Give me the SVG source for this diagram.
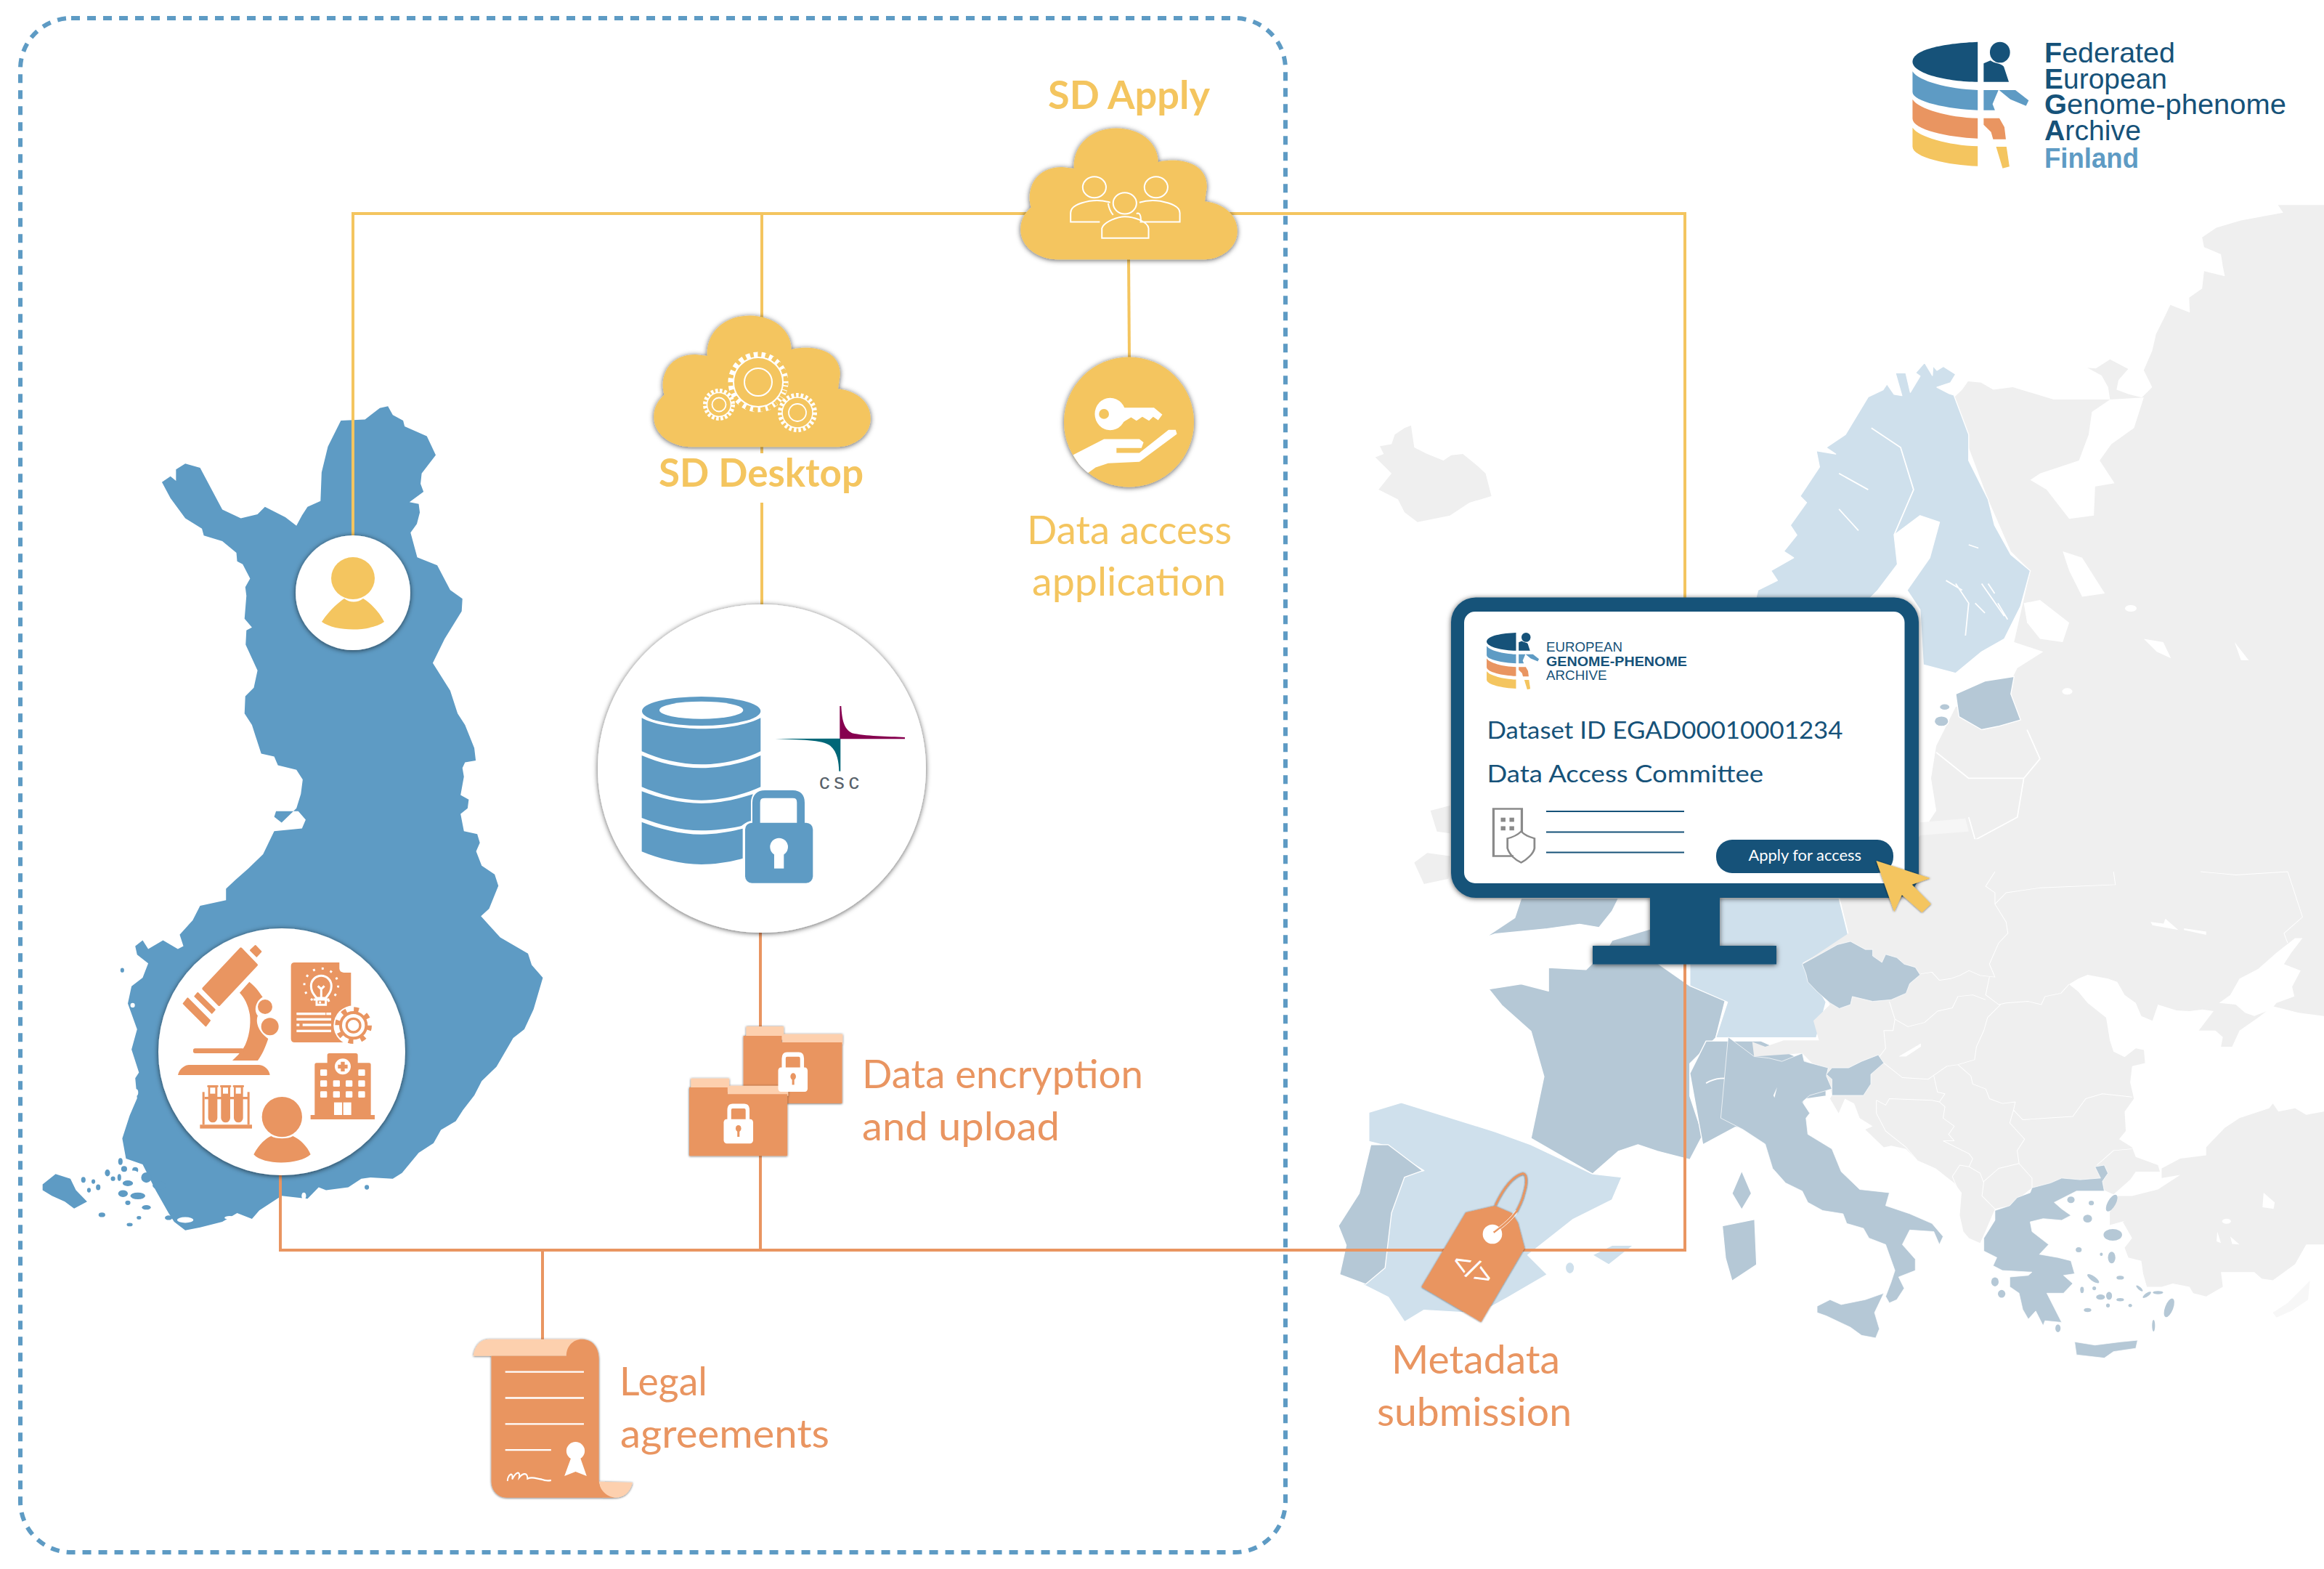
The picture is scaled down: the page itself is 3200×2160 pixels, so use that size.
<svg xmlns="http://www.w3.org/2000/svg" xmlns:xlink="http://www.w3.org/1999/xlink" width="3200" height="2160" viewBox="0 0 3200 2160">
<style>
.lb{fill:#5e9bc4}.or{fill:#e99561}.ye{fill:#f4c55f}.dk{fill:#165279}.wh{fill:#fff}.lt{fill:#fdd0ae}
.gy{fill:#efefef}.pale{fill:#cfe0ec;stroke:#fff;stroke-width:1.5;stroke-linejoin:round}.mid{fill:#b5c8d6;stroke:#fff;stroke-width:1.5;stroke-linejoin:round}
.bd{fill:none;stroke:#fff;stroke-width:2;stroke-linejoin:round}
.yl{fill:none;stroke:#f4c55f;stroke-width:4}.ol{fill:none;stroke:#e99561;stroke-width:4}
.lbl{font-family:Lato,"Liberation Sans",sans-serif}
.lo{font-family:"Liberation Sans",Arial,sans-serif;fill:#165279}
.wl{fill:none;stroke:#fff;stroke-width:2;vector-effect:non-scaling-stroke}
.sh{filter:url(#shadow)}
</style>
<defs>
<filter id="shadow" x="-15%" y="-15%" width="130%" height="130%"><feDropShadow dx="0" dy="1" stdDeviation="3.5" flood-color="#000" flood-opacity=".65"/></filter>
<path id="cloud" transform="translate(860,100) scale(.574,.3827)" d="M1040,672C990,672 950,625 950,565C950,530 960,505 975,485C962,420 985,340 1050,340L1078,345C1075,260 1120,200 1180,200C1235,200 1280,250 1280,322C1300,312 1395,300 1397,410L1392,463C1435,470 1470,510 1470,570C1470,630 1430,672 1390,672Z"/>
<g id="egaLogo">
<path class="dk" d="M400,173C300,178 180,200 180,255C180,305 300,338 400,338Z"/>
<path class="lb" d="M180,295C200,335 300,368 400,372L400,455C300,450 180,420 180,380Z"/>
<path class="or" d="M180,410C200,450 300,485 400,488L400,572C300,568 180,535 180,490Z"/>
<path class="ye" d="M180,527C200,565 300,600 400,604L400,686C300,682 180,650 180,605Z"/>
<ellipse class="dk" cx="475" cy="216" rx="34" ry="43"/>
<path class="dk" d="M420,262L443,250C455,262 480,262 488,275L505,338L420,338Z"/>
<path class="lb" d="M420,372L470,372L450,430L458,455L420,455Z"/>
<path class="lb" d="M472,372L527,372L572,415L563,437L510,410Z"/>
<path class="or" d="M420,488L473,488L490,525L495,575L452,575L445,545L420,515Z"/>
<path class="ye" d="M462,606L497,606L507,688L484,695Z"/>
</g>
</defs>
<rect width="3200" height="2160" fill="#fff"/>

<!-- Europe map -->
<g id="europe">
<g transform="translate(1800,500) scale(.8929)">
<path class="gy" d="M1568,-244L1497,-244L1505,-232L1440,-220L1402,-209L1380,-194L1383,-179L1409,-168L1412,-149L1415,-134L1383,-142L1380,-115L1360,-101L1361,-78L1331,-90L1322,-71L1309,-45L1303,-19L1296,-3L1290,11L1303,37L1287,53L1267,48L1248,41L1251,26L1266,9L1238,-6L1216,8L1203,7L1225,19L1235,37L1238,56L1151,56L1088,37L1058,41L1039,30L1019,28L1010,41L990,60L1020,130L1050,210L1085,290L1115,320L1090,430L1135,445L1095,470L1085,490L1000,530L970,590L962,640L970,690L950,720L900,800L1568,800Z"/>
<path class="wh" d="M1238,56L1290,53L1275,100L1240,125L1222,150L1245,185L1215,190L1213,235L1175,240L1140,195L1115,180L1130,170L1190,150L1205,110L1210,75Z"/>
<path class="wh" d="M1105,370L1130,365L1175,400L1165,430L1130,425L1110,400Z"/>
<path class="wh" d="M1165,290L1195,300L1230,355L1195,360L1175,320Z"/>
<path class="wh" d="M1290,425L1320,430L1332,455L1310,445ZM1430,430L1452,458L1440,458Z"/><ellipse class="wh" cx="1270" cy="378" rx="9" ry="5"/><ellipse class="wh" cx="1172" cy="506" rx="8" ry="5"/>
<path class="gy" d="M105,145L118,140L112,128L130,125L135,110L150,100L160,96L165,130L185,140L210,150L222,142L240,140L262,158L275,170L284,205L250,215L220,235L170,245L150,230L140,210L110,195L130,170Z"/>
<path class="gy" d="M165,770L185,755L220,760L218,795L180,803ZM190,690L220,682L220,725L200,722Z"/>
<path class="pale" d="M952,-1L964,19L965,4L971,11L981,5L1000,17L992,30L971,37L990,47L997,49L1020,110L1020,150L1050,210L1060,250L1085,295L1115,320L1100,375L1075,425L1040,445L1000,478L950,465L945,380L925,350L960,300L975,245L945,235L905,265L910,310L880,350L860,370L690,370L695,350L725,335L715,320L750,300L735,290L755,265L745,250L770,215L760,205L790,160L785,135L815,140L800,130L830,110L865,52L888,41L894,32L905,48L917,50L907,15L923,15L930,45L945,20L938,15Z"/>
<path class="bd" d="M870,100L915,130L935,195L905,265M820,170L865,195M820,225L850,258M1000,340L1020,370L1015,420M1040,340L1075,390M985,335L1010,350M1020,280L1035,285M1050,340L1060,355M1030,370L1045,385M1065,370L1080,395"/>
<path class="mid" d="M1000,510L1045,490L1090,483L1085,510L1100,550L1065,560L1040,565L1005,545Z"/><ellipse class="mid" cx="978" cy="552" rx="11" ry="8"/><ellipse class="mid" cx="983" cy="530" rx="8" ry="5"/>
<path d="M945,708L1015,702L1020,722L945,728Z" fill="#f6f6f6"/>
<path class="bd" d="M970,600L1020,640L1105,640L1095,700L1030,735L1060,800M1105,640L1130,610L1110,565M1030,735L1020,700"/>
<path class="mid" d="M275,885L320,855L330,825L480,825L470,845L450,870L420,865L370,872L290,880Z"/>
<path class="mid" d="M470,890L530,872L530,930L450,925Z"/>
<path class="mid" d="M280,965L330,957L372,968L372,932L430,935L440,925L540,925L590,960L645,980L630,1040L590,1080L590,1130L610,1190L590,1228L540,1215L510,1205L480,1215L440,1250L345,1195L365,1100L345,1030L300,990Z"/>
<path class="pale" d="M636,825L820,825L835,885L765,925L800,985L785,1040L700,1040L630,1040L648,985L590,960L590,925L636,925Z"/>
<path class="mid" d="M590,1095L615,1045L700,1045L800,1090L800,1130L765,1135L770,1175L700,1180L660,1178L610,1205L600,1150Z"/>
<path class="bd" d="M615,1110C650,1090 680,1120 700,1085L720,1075"/>
<path class="mid" d="M655,1280L670,1245L685,1280L670,1305Z"/>
<path class="mid" d="M640,1330L690,1320L693,1390L655,1415L645,1380Z"/>
<path class="pale" d="M95,1155L145,1140L210,1160L290,1185L345,1205L440,1250L485,1255L470,1290L410,1320L340,1375L370,1405L310,1440L265,1465L180,1460L150,1478L125,1440L85,1420L120,1390L130,1300L150,1250L180,1245L115,1205L95,1200Z"/>
<path class="mid" d="M98,1205L125,1205L178,1245L150,1255L130,1310L120,1395L90,1420L50,1405L60,1360L48,1330L80,1280Z"/>
<path class="pale" d="M440,1375L470,1360L503,1360L465,1390Z"/><ellipse class="pale" cx="405" cy="1395" rx="7" ry="9"/>
</g>
<g transform="translate(2400,1200) scale(.5102,.4464)">
<path class="gy" d="M250,-100L1568,-100L1568,445L1500,435L1430,415L1390,450L1340,490L1320,540L1290,540L1295,510L1275,490L1230,490L1270,430L1240,425L1205,430L1170,428L1120,410L1105,460L1075,445L1060,405L1030,380L1010,340L985,330L930,318L905,330L880,347L905,370L930,405L980,450L990,520L1000,555L1030,572L1060,545L1082,550L1085,590L1050,600L1045,650L1055,700L1030,740L1033,800L1015,825L1050,850L1060,880L1120,905L1125,925L1060,925L1045,950L1000,995L970,980L780,975L720,1030L680,1040L650,1120L640,1145L610,1130L595,1110L585,1060L590,990L570,960L520,915L470,890L440,855L400,845L380,850L330,795L350,785L315,760L300,715L275,700L258,745L235,700L240,690L230,640L160,560L30,570L25,525L60,540L110,520L205,520L190,460L235,410L160,285L285,190L262,85Z"/>
<path class="wh" d="M1510,205L1480,250L1460,285L1505,305L1482,355L1488,385L1440,405L1425,425L1380,445L1355,435L1330,410L1285,405L1315,380L1340,330L1390,300L1440,250L1490,205Z"/>
<path class="gy" d="M1130,915L1180,885L1250,875L1250,850L1300,790L1340,760L1420,730L1430,715L1445,740L1490,730L1520,750L1568,740L1568,1150L1520,1150L1490,1210L1430,1260L1400,1255L1380,1235L1290,1235L1295,1280L1250,1310L1215,1300L1205,1280L1160,1270L1130,1280L1090,1280L1080,1240L1075,1200L1040,1190L1030,1160L1050,1130L1025,1080L1035,1075L990,1090L990,1050L1010,1000L1050,1000L1120,980L1180,935L1130,945Z"/>
<path class="wh" d="M1405,990L1435,1020L1432,1040L1402,1035ZM1315,1125L1340,1150L1320,1148ZM1280,1110L1290,1145L1278,1140Z"/><ellipse class="wh" cx="1305" cy="1078" rx="12" ry="8"/>
<path d="M1430,1360L1470,1330L1530,1262L1525,1320L1480,1355L1440,1375Z" fill="#f7f7f7"/>
<path class="wh" d="M1100,155L1135,160L1140,145L1175,180L1105,165ZM1190,175L1250,185L1250,195L1190,180ZM420,570L480,530L480,540L440,570Z"/>
<path class="bd" d="M680,0L655,45L680,65L680,100L710,155L715,190L690,220L665,285L680,325L640,320L610,305L585,320L560,330L530,335L510,310L480,315M665,325L655,380L690,410L710,405L770,400L805,410L815,385L858,375L880,347M695,410L660,450L650,490L630,540L625,580L580,595M395,400L410,455L445,478L490,465L525,430L565,420L580,385L620,380L655,395M410,455L405,490L380,490L385,545L365,575M380,590L430,635L500,640L550,600L580,595L615,630L620,655L655,670L665,700L700,715L735,710L730,735L755,765L820,760L890,755L925,700L970,685L1050,695M515,630L525,680L545,685L530,710L545,725L540,760L570,785L555,810L570,830L540,830M730,735L720,775L760,825L740,860L745,900L780,945L780,975M745,900L690,915L650,955L645,1000L680,1040M360,705L385,720L395,700L510,705L530,710M360,705L360,745L385,800L440,850L470,890M540,830L610,870L620,885L610,910L640,930L650,960M610,910L585,905L565,940L580,980M1050,855L1000,860L980,880L955,905M1000,0L1005,40L800,50L710,65L680,100M1235,0L1330,10L1470,0L1510,140L1460,190L1470,220"/>
<path class="mid" d="M-40,510L30,570L70,575L105,585L160,560L165,585L230,605L225,630L240,670L180,690L160,710L180,745L170,760L175,810L240,855L265,925L315,980L395,990L385,1030L450,1055L510,1085L540,1125L530,1150L515,1110L450,1105L430,1150L465,1195L465,1230L420,1250L435,1285L415,1320L395,1330L385,1310L400,1265L410,1230L385,1150L340,1130L325,1100L280,1085L270,1055L215,1045L175,1020L160,985L115,960L80,915L60,840L0,795L-60,760Z"/>
<path class="wh" d="M82,690L92,665L85,697Z"/>
<path class="mid" d="M225,625L240,605L285,605L320,585L365,565L380,590L345,625L345,655L325,690L240,690L240,640Z"/>
<path class="mid" d="M160,285L200,260L255,225L290,215L330,240L350,240L350,260L375,280L385,255L415,265L435,285L465,295L478,318L450,345L440,375L400,395L350,400L295,385L290,410L260,422L235,405L200,370L175,340L170,315Z"/>
<path class="mid" d="M200,1340L235,1320L265,1335L330,1320L380,1300L355,1360L368,1410L358,1438L320,1430L290,1405L225,1370L200,1360Z"/>
<path class="mid" d="M680,1045L720,1030L740,1005L775,990L780,975L830,960L860,945L910,950L965,945L950,910L975,905L985,930L970,955L975,985L900,985L840,1020L860,1040L885,1060L860,1075L810,1070L775,1080L780,1110L825,1150L800,1180L850,1190L885,1200L895,1240L865,1245L890,1270L865,1300L820,1300L860,1390L815,1385L810,1400L790,1355L770,1380L755,1350L745,1300L720,1280L720,1250L770,1245L780,1235L700,1230L675,1215L685,1190L650,1170L650,1130L680,1075Z"/>
<path class="mid" d="M895,1450L950,1460L1020,1450L1065,1445L1060,1470L1000,1480L975,1500L900,1490Z"/>
<g fill="#b5c8d6"><ellipse cx="885" cy="1012" rx="10" ry="10"/><ellipse cx="940" cy="1022" rx="7" ry="7"/><ellipse cx="930" cy="1070" rx="12" ry="12"/><ellipse cx="998" cy="1120" rx="25" ry="18"/><ellipse cx="995" cy="1190" rx="10" ry="18"/><ellipse cx="967" cy="1180" rx="4" ry="5"/><ellipse cx="945" cy="1255" rx="20" ry="7" transform="rotate(40 945 1255)"/><ellipse cx="906" cy="1166" rx="8" ry="8"/><ellipse cx="1150" cy="1345" rx="11" ry="30" transform="rotate(18 1150 1345)"/><ellipse cx="995" cy="1022" rx="11" ry="28" transform="rotate(25 995 1022)"/><ellipse cx="1108" cy="1400" rx="4" ry="18"/><ellipse cx="698" cy="1302" rx="10" ry="12"/><ellipse cx="680" cy="1265" rx="10" ry="14"/><ellipse cx="850" cy="1408" rx="7" ry="12"/><ellipse cx="965" cy="1312" rx="12" ry="8"/><ellipse cx="988" cy="1308" rx="8" ry="12"/><ellipse cx="1018" cy="1252" rx="10" ry="6"/><ellipse cx="915" cy="1290" rx="5" ry="10"/><ellipse cx="948" cy="1285" rx="5" ry="6"/><ellipse cx="1045" cy="1338" rx="5" ry="5"/><ellipse cx="930" cy="1352" rx="10" ry="6"/><ellipse cx="985" cy="1338" rx="5" ry="6"/><ellipse cx="1018" cy="1320" rx="10" ry="5"/><ellipse cx="1090" cy="1305" rx="14" ry="5" transform="rotate(-40 1090 1305)"/><ellipse cx="1120" cy="1298" rx="14" ry="5"/><ellipse cx="1070" cy="1285" rx="12" ry="4" transform="rotate(45 1070 1285)"/></g>
</g>
</g>

<!-- Finland -->
<g id="finland" transform="translate(0,500) scale(.5102,.7906)">
<path class="lb" d="M1047,75L1060,90L1088,100L1092,110L1152,127L1176,160L1138,192L1135,210L1143,224L1105,242L1130,245L1133,260L1125,280L1108,295L1126,338L1180,352L1215,395L1248,410L1246,432L1200,480L1168,522L1215,570L1235,610L1255,630L1280,670L1284,692L1255,695L1248,705L1252,720L1243,752L1265,760L1262,775L1243,785L1252,815L1288,820L1295,835L1285,850L1300,875L1335,890L1345,910L1320,950L1298,963L1350,1000L1425,1028L1435,1048L1465,1070L1440,1125L1415,1160L1385,1175L1340,1225L1300,1250L1280,1275L1250,1300L1230,1320L1190,1335L1170,1358L1130,1375L1085,1410L1060,1420L1000,1418L975,1420L940,1435L880,1440L860,1435L830,1455L760,1450L700,1475L680,1490L640,1480L600,1495L540,1505L500,1510L470,1495L455,1480L420,1440L385,1395L340,1385L330,1350L350,1310L370,1280L365,1245L375,1235L355,1195L370,1160L345,1115L355,1085L385,1070L400,1045L370,1030L365,1015L385,1005L400,1020L440,1005L480,1020L495,1015L485,995L520,970L540,945L610,935L610,915L635,900L670,880L710,855L740,815L815,810L825,795L805,780L745,780L740,790L760,800L800,775L812,750L817,725L800,708L750,700L740,685L705,680L690,650L680,630L660,610L662,580L685,565L695,535L663,490L665,465L680,460L660,445L665,405L662,390L675,375L655,350L640,345L638,330L600,310L550,300L545,288L500,270L460,235L437,207L460,197L475,205L475,185L500,175L540,182L590,243L600,255L650,270L695,263L715,250L770,268L800,283L815,265L830,250L865,240L868,190L885,145L920,100L985,98L1025,78Z"/>
<path class="lb" d="M115,1430L150,1412L190,1420L205,1440L235,1460L200,1472L175,1460L140,1450L115,1440Z"/>
<g class="lb"><ellipse cx="330" cy="1057" rx="5" ry="4"/><ellipse cx="265" cy="1435" rx="6" ry="5"/><ellipse cx="290" cy="1410" rx="7" ry="6"/><ellipse cx="305" cy="1420" rx="6" ry="4"/><ellipse cx="275" cy="1483" rx="9" ry="4"/><ellipse cx="350" cy="1500" rx="8" ry="3"/><ellipse cx="375" cy="1488" rx="6" ry="3"/><ellipse cx="240" cy="1440" rx="5" ry="4"/><ellipse cx="325" cy="1390" rx="6" ry="6"/><ellipse cx="455" cy="1488" rx="10" ry="4"/><ellipse cx="990" cy="1435" rx="6" ry="4"/><ellipse cx="225" cy="1422" rx="6" ry="5"/><ellipse cx="335" cy="1403" rx="8" ry="5"/><ellipse cx="322" cy="1418" rx="5" ry="6"/><ellipse cx="345" cy="1428" rx="14" ry="5"/><ellipse cx="332" cy="1446" rx="13" ry="6"/><ellipse cx="372" cy="1450" rx="20" ry="6"/><ellipse cx="395" cy="1418" rx="14" ry="9"/><ellipse cx="365" cy="1405" rx="8" ry="5"/><ellipse cx="430" cy="1432" rx="18" ry="7"/><ellipse cx="345" cy="1462" rx="7" ry="4"/><ellipse cx="395" cy="1470" rx="12" ry="4"/><ellipse cx="252" cy="1425" rx="5" ry="4"/></g>
<g class="wh"><ellipse cx="360" cy="1410" rx="12" ry="4"/><ellipse cx="385" cy="1430" rx="10" ry="4"/><ellipse cx="410" cy="1458" rx="18" ry="5"/><ellipse cx="500" cy="1492" rx="22" ry="5"/><ellipse cx="620" cy="1488" rx="14" ry="3"/><ellipse cx="820" cy="1450" rx="6" ry="6"/><ellipse cx="860" cy="1445" rx="8" ry="5"/><ellipse cx="375" cy="1058" rx="8" ry="5"/><ellipse cx="358" cy="1118" rx="6" ry="4"/><ellipse cx="367" cy="1270" rx="6" ry="6"/></g>
</g>

<!-- connectors -->
<g id="connectors">
<path class="yl" d="M486,740V294H2320V826"/>
<path class="yl" d="M1049,294V440M1049,610V624M1049,692V832"/>
<path class="yl" d="M1554,355L1555,494"/>
<path class="ol" d="M386,1610V1721H2320V1320"/>
<path class="ol" d="M747,1721V1846"/>
<path class="ol" d="M1047,1282V1721"/>
</g>

<!-- federated zone -->
<rect id="zone" x="28" y="25" width="1742" height="2112" rx="70" fill="none" stroke="#5e9bc4" stroke-width="6" stroke-dasharray="12 10"/>

<g id="fega-logo">
<use xlink:href="#egaLogo" href="#egaLogo" transform="translate(2560,0) scale(.408,.3333)"/>
<text class="lo" x="2815" y="86" font-size="38.5" textLength="180" lengthAdjust="spacingAndGlyphs"><tspan font-weight="700">F</tspan>ederated</text>
<text class="lo" x="2815" y="121.7" font-size="38.5" textLength="169" lengthAdjust="spacingAndGlyphs"><tspan font-weight="700">E</tspan>uropean</text>
<text class="lo" x="2815" y="157" font-size="38.5" textLength="333" lengthAdjust="spacingAndGlyphs"><tspan font-weight="700">G</tspan>enome-phenome</text>
<text class="lo" x="2815" y="193" font-size="38.5" textLength="133" lengthAdjust="spacingAndGlyphs"><tspan font-weight="700">A</tspan>rchive</text>
<text class="lo" x="2815" y="230.7" font-size="38.5" font-weight="700" textLength="130" lengthAdjust="spacingAndGlyphs" style="fill:#5e9bc4">Finland</text>
</g>

<g id="sd-apply">
<use xlink:href="#cloud" href="#cloud" class="ye sh"/>
<g transform="translate(860,100) scale(.574,.3827)">
<ellipse class="wl" cx="1127" cy="412" rx="28" ry="38"/><ellipse class="wl" cx="1275" cy="412" rx="28" ry="38"/><ellipse class="wl" cx="1200" cy="470" rx="28" ry="38"/>
<path class="wl" d="M1165,467C1150,460 1135,458 1115,462C1090,470 1070,480 1070,505V537H1140M1235,467C1250,460 1265,458 1285,462C1310,470 1332,480 1332,505V537H1238C1240,515 1235,500 1228,508M1160,470C1162,490 1168,505 1172,512M1145,595V560C1150,535 1185,518 1200,518C1220,518 1255,535 1257,560V595Z"/>
</g>
<text class="lbl ye" x="1443" y="150" font-size="54" font-weight="700" textLength="223" lengthAdjust="spacingAndGlyphs">SD Apply</text>
</g>

<g id="sd-desktop">
<use xlink:href="#cloud" href="#cloud" class="ye sh" transform="translate(-505,258)"/>
<g fill="#f4c55f" stroke="#fff">
<circle cx="1044" cy="526" r="37" fill="none" stroke-width="9" stroke-dasharray="6 4.5"/>
<circle cx="1044" cy="526" r="38" fill="none" stroke="#f4c55f" stroke-width="6" stroke-dasharray="3 7.4" stroke-dashoffset="-1.4"/>
<circle cx="1044" cy="526" r="34" stroke-width="2"/>
<circle cx="1044" cy="526" r="19" stroke-width="2"/>
<circle cx="990" cy="557" r="19" fill="none" stroke-width="6" stroke-dasharray="3.5 2.5"/>
<circle cx="990" cy="557" r="16.5" stroke-width="1.6"/>
<circle cx="990" cy="557" r="9.5" stroke-width="1.8"/>
<circle cx="1098" cy="568" r="24" fill="none" stroke-width="6" stroke-dasharray="3.5 3"/>
<circle cx="1098" cy="568" r="21" stroke-width="1.6"/>
<circle cx="1098" cy="568" r="12" stroke-width="1.8"/>
</g>
<text class="lbl ye" x="907" y="669.5" font-size="54" font-weight="700" textLength="282" lengthAdjust="spacingAndGlyphs">SD Desktop</text>
</g>

<g id="data-access-application">
<circle class="ye sh" cx="1554.5" cy="581" r="89.5"/>
<g transform="translate(860,100) scale(.574,.3827)" class="wh">
<ellipse cx="1165" cy="1228" rx="37" ry="58"/>
<path d="M1190,1205L1270,1205L1290,1230L1280,1250L1268,1238L1258,1252L1242,1238L1228,1252L1215,1240L1195,1258Z"/>
<ellipse class="ye" cx="1150" cy="1228" rx="12" ry="18"/>
<path d="M1076,1375L1150,1318L1235,1318L1245,1330L1240,1350L1180,1350L1180,1368L1235,1368L1305,1285L1322,1285L1325,1300L1235,1400L1160,1405L1130,1420L1112,1440C1095,1420 1085,1400 1076,1375Z"/>
</g>
<text class="lbl ye" x="1414" y="749" font-size="54" textLength="282" lengthAdjust="spacingAndGlyphs">Data access</text>
<text class="lbl ye" x="1421" y="820" font-size="54" textLength="267" lengthAdjust="spacingAndGlyphs">application</text>
</g>

<g id="researcher">
<circle class="wh sh" cx="486" cy="816" r="79"/>
<ellipse class="ye" cx="486" cy="796" rx="30" ry="29"/>
<path class="ye" d="M443,856C455,838 468,828 474,824C482,830 492,830 500,824C510,830 522,842 529,856C510,870 462,870 443,856Z"/>
</g>

<g id="research-centre">
<circle class="wh sh" cx="388" cy="1448" r="170"/>
<g transform="translate(180,1250) scale(.3333)">
<g class="or">
<path stroke="#e99561" stroke-width="10" stroke-linejoin="round" d="M455,168L520,235L365,400L300,333Z"/>
<path stroke="#e99561" stroke-width="6" stroke-linejoin="round" d="M515,156L538,180L520,200L495,175Z"/>
<path stroke="#e99561" stroke-width="6" stroke-linejoin="round" d="M277,351L347,420L335,434L265,365Z"/>
<path stroke="#e99561" stroke-width="6" stroke-linejoin="round" d="M235,373L327,465L310,487L218,395Z"/>
<path d="M450,350L490,305C515,325 530,345 545,368C520,380 505,420 525,445C515,470 525,510 568,540C555,580 540,610 525,630L420,630L445,605L465,580C490,540 497,480 492,440C485,400 470,370 450,350Z"/>
<circle cx="555" cy="408" r="30"/><circle cx="575" cy="490" r="36"/>
<rect x="258" y="580" width="210" height="20" rx="8"/>
<path d="M195,690C200,665 220,650 240,648L530,648C555,650 572,670 575,690Z"/>
<path d="M662,240Q662,225 677,225L862,225V250Q862,265 880,267H910V555H677Q662,555 662,540Z"/>
</g>
<path class="wh" d="M875,232L903,262H875Z"/>
<g class="wh"><rect x="685" y="432" width="120" height="10"/><rect x="808" y="432" width="20" height="10"/><rect x="685" y="455" width="143" height="10"/><rect x="685" y="478" width="12" height="10"/><rect x="710" y="478" width="118" height="10"/><rect x="685" y="503" width="143" height="10"/></g>
<circle cx="787" cy="320" r="70" fill="none" stroke="#fff" stroke-width="9" stroke-dasharray="9 27.6"/>
<path fill="none" stroke="#fff" stroke-width="9" d="M768,372C755,355 745,345 745,322A42,42 0 1 1 829,322C829,345 818,355 806,372ZM768,376V400H806V376M755,378H820M787,372V335M773,322L787,335L800,322"/>
<circle cx="920" cy="485" r="82" class="wh"/>
<circle cx="920" cy="485" r="65" fill="none" stroke="#e99561" stroke-width="22" stroke-dasharray="20 31"/>
<circle cx="920" cy="485" r="53" fill="#fff" stroke="#e99561" stroke-width="12"/>
<circle cx="920" cy="485" r="28" fill="#fff" stroke="#e99561" stroke-width="10"/>
<path class="or" d="M760,648Q760,640 768,640H812V608Q812,600 820,600H930Q938,600 938,608V640H985Q992,640 992,648V855H1008V873H743V855H760Z"/>
<circle class="wh" cx="876" cy="655" r="33"/><path class="or" d="M868,635H884V647H896V663H884V675H868V663H856V647H868Z"/>
<g class="wh"><rect x="783" y="667" width="28" height="26" rx="4"/><rect x="940" y="667" width="28" height="26" rx="4"/><rect x="783" y="712" width="28" height="26" rx="4"/><rect x="836" y="712" width="28" height="26" rx="4"/><rect x="888" y="712" width="28" height="26" rx="4"/><rect x="940" y="712" width="28" height="26" rx="4"/><rect x="783" y="757" width="28" height="26" rx="4"/><rect x="836" y="757" width="28" height="26" rx="4"/><rect x="888" y="757" width="28" height="26" rx="4"/><rect x="940" y="757" width="28" height="26" rx="4"/><rect x="840" y="803" width="33" height="52"/><rect x="878" y="803" width="33" height="52"/></g>
<g class="or"><rect x="286" y="895" width="215" height="16"/><rect x="296" y="760" width="9" height="135"/><rect x="482" y="760" width="9" height="135"/><rect x="305" y="780" width="178" height="10"/>
<rect x="316" y="732" width="46" height="8" rx="3"/><rect x="369" y="732" width="46" height="8" rx="3"/><rect x="422" y="732" width="46" height="8" rx="3"/>
<path d="M320,738H358V867A19,19 0 0 1 320,867ZM373,738H411V867A19,19 0 0 1 373,867ZM426,738H464V867A19,19 0 0 1 426,867Z"/></g>
<g class="wh"><rect x="328" y="742" width="21" height="25"/><rect x="381" y="742" width="21" height="25"/><rect x="434" y="742" width="21" height="25"/></g>
<circle class="or" cx="625" cy="863" r="83"/>
<path class="or" d="M508,1018C530,975 560,950 580,942C600,955 650,955 670,942C700,955 730,985 743,1018C700,1060 550,1065 508,1018Z"/>
</g>
</g>

<g id="sd-connect-storage">
<circle class="wh sh" cx="1049" cy="1058" r="226"/>
<g transform="translate(800,800) scale(.3333)">
<g class="lb">
<ellipse cx="497" cy="537" rx="245" ry="60"/>
<path d="M251,565C300,595 420,610 497,610C580,610 690,595 742,565V703C680,735 580,757 497,757C410,757 320,735 251,703Z"/>
<path d="M251,720C320,750 410,772 497,772C580,772 680,750 742,720V850C680,880 580,905 497,905C410,905 320,880 251,850Z"/>
<path d="M251,868C320,895 410,918 497,918C570,918 650,900 710,880L705,990C680,993 675,1005 660,1012C610,1022 550,1030 497,1030C410,1030 320,1005 251,978Z"/>
<path d="M251,995C320,1022 410,1046 497,1046C560,1046 620,1035 668,1022V1145C620,1160 550,1170 497,1170C410,1170 320,1145 251,1117Z"/>
</g>
<ellipse class="wh" cx="497" cy="533" rx="173" ry="36"/>
<path fill="none" stroke="#fff" stroke-width="44" d="M724,1000V915Q724,880 760,880H875Q908,880 908,915V1000"/>
<path fill="none" stroke="#5e9bc4" stroke-width="32" d="M724,1000V915Q724,880 760,880H875Q908,880 908,915V1000"/>
<rect class="wh" x="755" y="900" width="125" height="98"/>
<rect class="lb" x="678" y="998" width="280" height="249" rx="28"/>
<circle class="wh" cx="818" cy="1098" r="37"/><rect class="wh" x="798" y="1120" width="40" height="67"/>
<path fill="#006778" d="M802,651C900,655 1000,655 1030,680C1060,705 1065,750 1066,785H1072V650Z"/>
<path fill="#86004f" d="M1069,516H1075C1078,570 1085,610 1120,628C1170,640 1270,642 1338,645V652H1069Z"/>
</g>
<text x="1128" y="1086" font-family="Liberation Sans, Arial, sans-serif" font-size="29" fill="#58626b" textLength="55">csc</text>
</g>

<g id="data-encryption">
<g transform="translate(600,1380) scale(.3827,.4591)">
<g class="sh">
<rect class="lt" x="1117" y="72" width="135" height="40"/><rect class="lt" x="1247" y="95" width="217" height="30"/>
<path class="or" d="M1107,100H1245V120H1462V303H1107Z"/>
</g>
<g class="sh">
<rect class="lt" x="918" y="228" width="138" height="40"/><rect class="lt" x="1050" y="250" width="218" height="30"/>
<path class="or" d="M912,255H1050V275H1265V460H912Z"/>
</g>
<path fill="none" stroke="#fff" stroke-width="14" d="M1252,200V168Q1252,156 1264,156H1306Q1318,156 1318,168V200"/>
<rect class="wh" x="1232" y="195" width="106" height="73" rx="10"/><circle class="or" cx="1286" cy="222" r="10"/><rect class="or" x="1282" y="225" width="8" height="22"/>
<path fill="none" stroke="#fff" stroke-width="14" d="M1056,355V323Q1056,311 1068,311H1110Q1122,311 1122,323V355"/>
<rect class="wh" x="1036" y="350" width="106" height="73" rx="10"/><circle class="or" cx="1089" cy="378" r="10"/><rect class="or" x="1085" y="381" width="8" height="22"/>
</g>
<text class="lbl or" x="1187" y="1498" font-size="54" textLength="387" lengthAdjust="spacingAndGlyphs">Data encryption</text>
<text class="lbl or" x="1187" y="1570" font-size="54" textLength="272" lengthAdjust="spacingAndGlyphs">and upload</text>
</g>

<g id="legal-agreements">
<g transform="translate(600,1380) scale(.3827,.4591)">
<g class="sh">
<path class="lt" d="M135,1060C140,1030 160,1010 190,1010H530L470,1060Z"/>
<path class="lt" d="M587,1437L708,1440C700,1470 675,1485 650,1485H600Z"/>
<path class="or" d="M200,1060H470C470,1030 495,1010 525,1010C560,1010 587,1030 587,1070V1437C590,1465 620,1485 650,1485H255C225,1485 200,1465 200,1435Z"/>
</g>
<path fill="none" stroke="#fff" stroke-width="5" d="M250,1108H533M250,1186H533M250,1264H533M250,1342H415M258,1435C260,1415 280,1405 275,1430C290,1405 305,1405 300,1425C315,1410 330,1410 330,1428C350,1420 365,1430 380,1430C395,1435 405,1435 415,1433"/>
<ellipse class="wh" cx="503" cy="1345" rx="33" ry="27"/>
<path class="wh" d="M487,1365H520L543,1420L503,1407L463,1420Z"/>
</g>
<text class="lbl or" x="853" y="1921" font-size="54" textLength="121" lengthAdjust="spacingAndGlyphs">Legal</text>
<text class="lbl or" x="854" y="1993" font-size="54" textLength="288" lengthAdjust="spacingAndGlyphs">agreements</text>
</g>

<g id="metadata-submission">
<g transform="translate(1850,1580) scale(.3333)">
<g class="sh">
<path class="or" d="M505,268L625,240L695,270L720,310L748,415L568,720L322,575Z"/>
<path fill="none" stroke="#e99561" stroke-width="8" d="M627,238C650,190 690,120 740,107C760,105 758,150 745,190C738,220 725,245 712,268"/>
</g>
<circle class="wh" cx="615" cy="357" r="40"/>
<path fill="none" stroke="#e99561" stroke-width="8" d="M715,262C690,295 660,320 620,350"/>
<path fill="none" stroke="#fff" stroke-width="2.5" d="M712,258C690,290 660,315 620,345M718,268C695,300 665,325 625,354"/>
</g>
<text transform="translate(2028,1747) rotate(30)" x="0" y="14" text-anchor="middle" font-family="Liberation Sans, Arial, sans-serif" font-size="40" fill="#fff">&lt;/&gt;</text>
<text class="lbl or" x="1916" y="1891" font-size="54" textLength="232" lengthAdjust="spacingAndGlyphs">Metadata</text>
<text class="lbl or" x="1896" y="1963" font-size="54" textLength="268" lengthAdjust="spacingAndGlyphs">submission</text>
</g>

<g id="ega-monitor">
<g class="sh">
<rect class="dk" x="2272" y="1230" width="96" height="75"/>
<rect class="dk" x="2193" y="1302" width="253" height="25.5"/>
<rect class="dk" x="1998" y="822.5" width="644" height="413.5" rx="34"/>
</g>
<rect class="wh" x="2016" y="842" width="606.5" height="374" rx="15"/>
<use xlink:href="#egaLogo" href="#egaLogo" transform="translate(2014,845) scale(.1837,.15)"/>
<text class="lo" x="2129" y="897" font-size="18" textLength="105" lengthAdjust="spacingAndGlyphs">EUROPEAN</text>
<text class="lo" x="2129" y="917" font-size="18" font-weight="700" textLength="194" lengthAdjust="spacingAndGlyphs">GENOME-PHENOME</text>
<text class="lo" x="2129" y="936" font-size="18" textLength="83.5" lengthAdjust="spacingAndGlyphs">ARCHIVE</text>
<text class="lbl dk" x="2047.5" y="1017" font-size="33" textLength="490" lengthAdjust="spacingAndGlyphs">Dataset ID EGAD00010001234</text>
<text class="lbl dk" x="2047.5" y="1077" font-size="33" textLength="380.5" lengthAdjust="spacingAndGlyphs">Data Access Committee</text>
<path fill="none" stroke="#165279" stroke-width="2" d="M2129,1117H2319M2129,1145.500H2319M2129,1173.500H2319"/>
<g transform="translate(1960,800) scale(.4591,.3571)">
<path fill="none" stroke="#8a8a8a" stroke-width="7" d="M270,1060H210V878H295V968"/>
<path fill="none" stroke="#8a8a8a" stroke-width="6" d="M252,992C275,985 285,975 293,965C305,980 315,985 333,992V1030C330,1050 310,1075 293,1085C275,1075 258,1055 252,1030Z"/>
<g fill="#8a8a8a"><rect x="232" y="912" width="14" height="16"/><rect x="258" y="912" width="14" height="16"/><rect x="232" y="945" width="14" height="16"/><rect x="258" y="945" width="14" height="16"/></g>
</g>
<rect class="dk" x="2363" y="1156" width="244" height="46" rx="22"/>
<text class="lbl wh" x="2407.500" y="1185" font-size="21" textLength="155.500" lengthAdjust="spacingAndGlyphs">Apply for access</text>
<path class="ye sh" transform="translate(1960,800) scale(.4591,.3571)" d="M1358,1078L1520,1145L1465,1170L1522,1245L1495,1278L1435,1210L1412,1275Z"/>
</g>
</svg>
